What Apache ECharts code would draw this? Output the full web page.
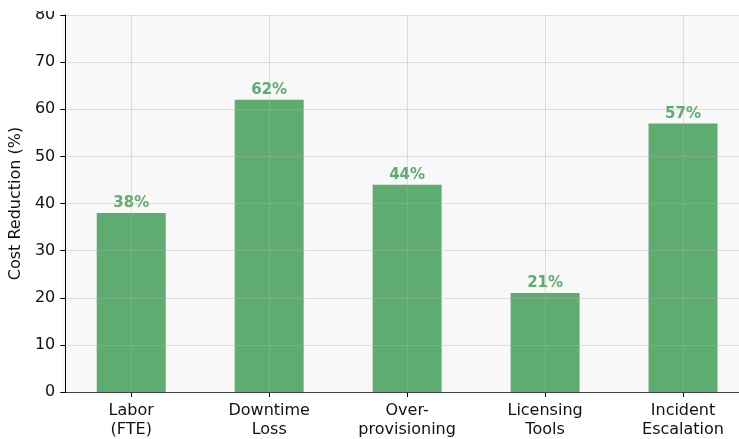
<!DOCTYPE html>
<html>
<head>
<meta charset="utf-8">
<style>
  html, body { margin: 0; padding: 0; background: #ffffff; overflow: hidden; }
  #wrap { position: relative; width: 739px; height: 439px; overflow: hidden; }
  #chart { width: 760px; height: 439px; }
  /* white top margin band above the plot */
  #topband { position: absolute; left: 0; top: 0; width: 739px; height: 11px; background: #ffffff; }
</style>
<script src="https://cdn.jsdelivr.net/npm/echarts@6/dist/echarts.min.js"></script>
</head>
<body>
<div id="wrap">
  <div id="chart"></div>
  <div id="topband"></div>
</div>
<script>
// Cost reduction by category
const categories = ['Labor\n(FTE)', 'Downtime\nLoss', 'Over-\nprovisioning', 'Licensing\nTools', 'Incident\nEscalation'];
const reductionPct = [38, 62, 44, 21, 57];
const yTicks = { min: 0, max: 80, step: 10 };

const green = '#55a868';
const font = 'DejaVu Sans';
const textColor = '#111';
const gridColor = 'rgba(176,176,176,0.38)';

const chart = echarts.init(document.getElementById('chart'), null, { renderer: 'canvas' });

chart.setOption({
  animation: false,
  backgroundColor: '#ffffff',
  grid: {
    left: 62, width: 690, top: 15, bottom: 47,
    show: true, backgroundColor: '#f8f8f8', borderWidth: 0
  },
  xAxis: {
    type: 'category',
    data: categories,
    axisLine: { show: true, lineStyle: { color: '#000', width: 1 } },
    axisTick: { show: true, alignWithLabel: true, length: 5, lineStyle: { color: '#000' } },
    axisLabel: { fontFamily: font, fontSize: 16, color: textColor, lineHeight: 19, margin: 9 },
    splitLine: { show: false }
  },
  yAxis: {
    type: 'value',
    min: yTicks.min, max: yTicks.max, interval: yTicks.step,
    offset: -3,
    z: 5,
    name: 'Cost Reduction (%)',
    nameLocation: 'middle',
    nameGap: 36,
    nameTextStyle: { fontFamily: font, fontSize: 16, color: textColor },
    axisLine: { show: true, lineStyle: { color: '#000', width: 1 } },
    axisTick: { show: true, length: 5, lineStyle: { color: '#000' } },
    axisLabel: { fontFamily: font, fontSize: 16, color: textColor, margin: 10 },
    splitLine: { show: true, lineStyle: { color: gridColor, width: 1 } }
  },
  series: [{
    type: 'bar',
    data: reductionPct,
    barWidth: '50%',
    itemStyle: { color: green, opacity: 0.95 },
    label: {
      show: true, position: 'top', distance: 2,
      formatter: '{c}%',
      fontFamily: font, fontSize: 15, fontWeight: 'bold', color: green
    },
    markLine: {
      silent: true,
      symbol: 'none',
      label: { show: false },
      lineStyle: { color: gridColor, type: 'solid', width: 1 },
      data: categories.map(c => ({ xAxis: c }))
    }
  }]
});
</script>
</body>
</html>
